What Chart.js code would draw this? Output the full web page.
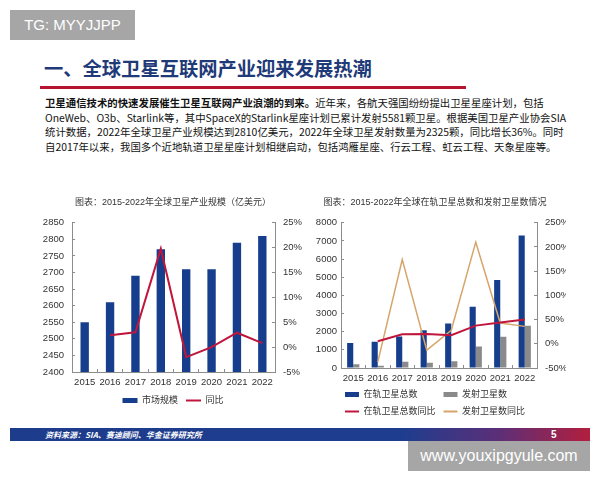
<!DOCTYPE html>
<html>
<head>
<meta charset="utf-8">
<script src="https://cdn.jsdelivr.net/npm/chart.js@4.4.0/dist/chart.umd.min.js"></script>
<style>
html, body { margin: 0; padding: 0; background: #fff; }
#slide { position: relative; width: 600px; height: 480px; overflow: hidden; background: #fff; font-family: 'Noto Sans CJK SC', sans-serif; }
.wm { position: absolute; background: #a6a6a6; color: #fff; font-family: 'Liberation Sans', Arial, sans-serif; text-align: center; }
#wmTop { left: 10px; top: 10px; width: 125px; height: 30px; line-height: 30px; font-size: 15px; }
#wmBottom { left: 408px; top: 441px; width: 182px; height: 30px; line-height: 30px; font-size: 16px; }
#title { position: absolute; left: 44px; top: 57px; font-size: 19.3px; line-height: 22px; font-weight: bold; color: #1f3a78; white-space: nowrap; }
#rule { position: absolute; left: 40px; top: 86px; width: 426px; height: 3px; background: #b5152e; }
#intro { position: absolute; left: 45px; top: 96px; font-size: 10.4px; line-height: 14.6px; color: #111; white-space: nowrap; }
#intro b { font-weight: bold; }
#footer { position: absolute; left: 10px; top: 428px; width: 580px; height: 13px; background: linear-gradient(to right, #1d3c8c 0%, #1f3d8e 68%, #5b2f78 84%, #b21f3e 100%); }
#source { position: absolute; left: 35px; top: 0; font-size: 8px; line-height: 13px; color: #fff; font-style: italic; font-weight: bold; }
#page { position: absolute; left: 541px; top: 0; font-size: 10px; line-height: 13px; color: #fff; font-weight: bold; font-family: 'Liberation Sans', Arial, sans-serif; }
canvas { position: absolute; }
#leftChart { left: 28px; top: 192px; }
#rightChart { left: 304px; top: 192px; }
</style>
</head>
<body>
<div id="slide">
  <div class="wm" id="wmTop">TG: MYYJJPP</div>
  <div id="title">一、全球卫星互联网产业迎来发展热潮</div>
  <div id="rule"></div>
  <div id="intro">
    <b>卫星通信技术的快速发展催生卫星互联网产业浪潮的到来。</b>近年来，各航天强国纷纷提出卫星星座计划，包括<br>
    OneWeb、O3b、Starlink等，其中SpaceX的Starlink星座计划已累计发射5581颗卫星。根据美国卫星产业协会SIA<br>
    统计数据，2022年全球卫星产业规模达到2810亿美元，2022年全球卫星发射数量为2325颗，同比增长36%。同时<br>
    自2017年以来，我国多个近地轨道卫星星座计划相继启动，包括鸿雁星座、行云工程、虹云工程、天象星座等。
  </div>
  <canvas id="leftChart" width="282" height="223"></canvas>
  <canvas id="rightChart" width="276" height="234"></canvas>
  <div id="footer">
    <div id="source">资料来源：SIA、赛迪顾问、华金证券研究所</div>
    <div id="page">5</div>
  </div>
  <div class="wm" id="wmBottom">www.youxipgyule.com</div>
</div>

<script>
// shared categories
const years = ['2015', '2016', '2017', '2018', '2019', '2020', '2021', '2022'];

// left chart: global satellite industry size (亿美元) and yoy (%)
const marketSize = [2550, 2610, 2690, 2770, 2710, 2710, 2790, 2810];
const marketYoY = [null, 2.4, 3.0, 19.8, -2.0, 0.0, 2.9, 0.8];

// right chart: satellites in orbit, launched, and their yoy (%)
const inOrbit = [1380, 1450, 1740, 2080, 2450, 3370, 4850, 7300];
const launched = [200, 130, 350, 290, 370, 1180, 1720, 2325];
const inOrbitYoY = [null, 5.2, 19.7, 20.0, 17.6, 37.6, 44.0, 50.0];
const launchedYoY = [null, -38, 174, -13, 28, 210, 43, 36];

// colors
const BAR_BLUE = '#173e8c';
const BAR_GRAY = '#8a8a8a';
const LINE_RED = '#c0163c';
const LINE_TAN = '#d6a56c';
const AXIS_GRAY = '#8c8c8c';
const TEXT = '#333';
const FONT = "'Liberation Sans', 'Noto Sans CJK SC', sans-serif";

Chart.defaults.font.family = FONT;
Chart.defaults.color = TEXT;

// legend: rect for bars, short line for lines, kept in dataset order
function legendItems(chart, cols) {
    const items = Chart.defaults.plugins.legend.labels.generateLabels(chart);
    items.sort((a, b) => a.datasetIndex - b.datasetIndex);
    items.forEach(item => {
        const ds = chart.data.datasets[item.datasetIndex];
        const isLine = ds.type === 'line';
        item.pointStyle = isLine ? 'line' : 'rect';
        item.lineWidth = isLine ? 2 : 0;
        item.strokeStyle = ds.borderColor;
        item.fillStyle = ds.backgroundColor;
    });
    if (cols) {
        // pad labels with full-width spaces so the rows line up in columns
        items.forEach((item, i) => {
            let len = 0;
            items.forEach((o, j) => { if (j % cols === i % cols) len = Math.max(len, o.text.length); });
            item.text = item.text + '\u3000'.repeat(len - item.text.length);
        });
    }
    return items;
}

function axisGrid() {
    return { display: true, drawOnChartArea: false, drawTicks: true, tickLength: -3, color: AXIS_GRAY };
}

// Left chart
new Chart(document.getElementById('leftChart'), {
    data: {
        labels: years,
        datasets: [
            {
                type: 'bar',
                label: '市场规模',
                data: marketSize,
                backgroundColor: BAR_BLUE,
                borderColor: BAR_BLUE,
                yAxisID: 'y',
                order: 2,
                barPercentage: 0.33,
                categoryPercentage: 1,
            },
            {
                type: 'line',
                label: '同比',
                data: marketYoY,
                borderColor: LINE_RED,
                backgroundColor: LINE_RED,
                borderWidth: 2,
                pointRadius: 0,
                tension: 0,
                yAxisID: 'y1',
                order: 1,
            }
        ]
    },
    options: {
        responsive: false,
        animation: false,
        devicePixelRatio: 1,
        layout: { padding: { left: 8, right: 0, top: 0, bottom: 0 } },
        plugins: {
            tooltip: { enabled: false },
            title: {
                display: true,
                text: '图表：2015-2022年全球卫星产业规模（亿美元）',
                font: { size: 9, weight: 'normal' },
                color: TEXT,
                padding: { top: 5, bottom: 15 }
            },
            legend: {
                position: 'bottom',
                labels: {
                    usePointStyle: true,
                    pointStyleWidth: 15,
                    boxHeight: 5,
                    padding: 8,
                    font: { size: 9 },
                    generateLabels: chart => legendItems(chart, 0)
                }
            }
        },
        scales: {
            x: {
                grid: axisGrid(),
                border: { color: AXIS_GRAY },
                ticks: { font: { size: 9.5 }, padding: 8, maxRotation: 0 },
                afterFit: s => { s.height = 16; }
            },
            y: {
                position: 'left',
                min: 2400,
                max: 2850,
                grid: axisGrid(),
                border: { color: AXIS_GRAY },
                ticks: { stepSize: 50, font: { size: 9.5 }, padding: 11, callback: v => String(v) },
                afterFit: s => { s.width = 36; }
            },
            y1: {
                position: 'right',
                min: -5,
                max: 25,
                grid: axisGrid(),
                border: { color: AXIS_GRAY },
                ticks: { stepSize: 5, font: { size: 9.5 }, padding: 11, callback: v => v + '%' },
                afterFit: s => { s.width = 35; }
            }
        }
    }
});

// Right chart
new Chart(document.getElementById('rightChart'), {
    data: {
        labels: years,
        datasets: [
            {
                type: 'bar',
                label: '在轨卫星总数',
                data: inOrbit,
                backgroundColor: BAR_BLUE,
                borderColor: BAR_BLUE,
                yAxisID: 'y',
                order: 2,
                barPercentage: 1,
                categoryPercentage: 0.5,
            },
            {
                type: 'bar',
                label: '发射卫星数',
                data: launched,
                backgroundColor: BAR_GRAY,
                borderColor: BAR_GRAY,
                yAxisID: 'y',
                order: 2,
                barPercentage: 1,
                categoryPercentage: 0.5,
            },
            {
                type: 'line',
                label: '在轨卫星总数同比',
                data: inOrbitYoY,
                borderColor: LINE_RED,
                backgroundColor: LINE_RED,
                borderWidth: 2,
                pointRadius: 0,
                tension: 0,
                yAxisID: 'y1',
                order: 1,
            },
            {
                type: 'line',
                label: '发射卫星数同比',
                data: launchedYoY,
                borderColor: LINE_TAN,
                backgroundColor: LINE_TAN,
                borderWidth: 1.5,
                pointRadius: 0,
                tension: 0,
                yAxisID: 'y1',
                order: 1,
            }
        ]
    },
    options: {
        responsive: false,
        animation: false,
        devicePixelRatio: 1,
        layout: { padding: { left: 0, right: 14, top: 0, bottom: 0 } },
        plugins: {
            tooltip: { enabled: false },
            title: {
                display: true,
                text: '图表：2015-2022年全球在轨卫星总数和发射卫星数情况',
                font: { size: 9, weight: 'normal' },
                color: TEXT,
                padding: { top: 5, bottom: 15 }
            },
            legend: {
                position: 'bottom',
                labels: {
                    usePointStyle: true,
                    pointStyleWidth: 14,
                    boxHeight: 5,
                    padding: 8,
                    font: { size: 9 },
                    generateLabels: chart => legendItems(chart, 2)
                }
            }
        },
        scales: {
            x: {
                grid: axisGrid(),
                border: { color: AXIS_GRAY },
                ticks: { font: { size: 9.5 }, padding: 8, maxRotation: 0 },
                afterFit: s => { s.height = 14; }
            },
            y: {
                position: 'left',
                min: 0,
                max: 8000,
                grid: axisGrid(),
                border: { color: AXIS_GRAY },
                ticks: { stepSize: 1000, font: { size: 9.5 }, padding: 7, callback: v => String(v) },
                afterFit: s => { s.width = 37; }
            },
            y1: {
                position: 'right',
                min: -50,
                max: 250,
                grid: axisGrid(),
                border: { color: AXIS_GRAY },
                ticks: { stepSize: 50, font: { size: 9.5 }, padding: 11, callback: v => v + '%' },
                afterFit: s => { s.width = 29; }
            }
        }
    }
});
</script>
</body>
</html>
